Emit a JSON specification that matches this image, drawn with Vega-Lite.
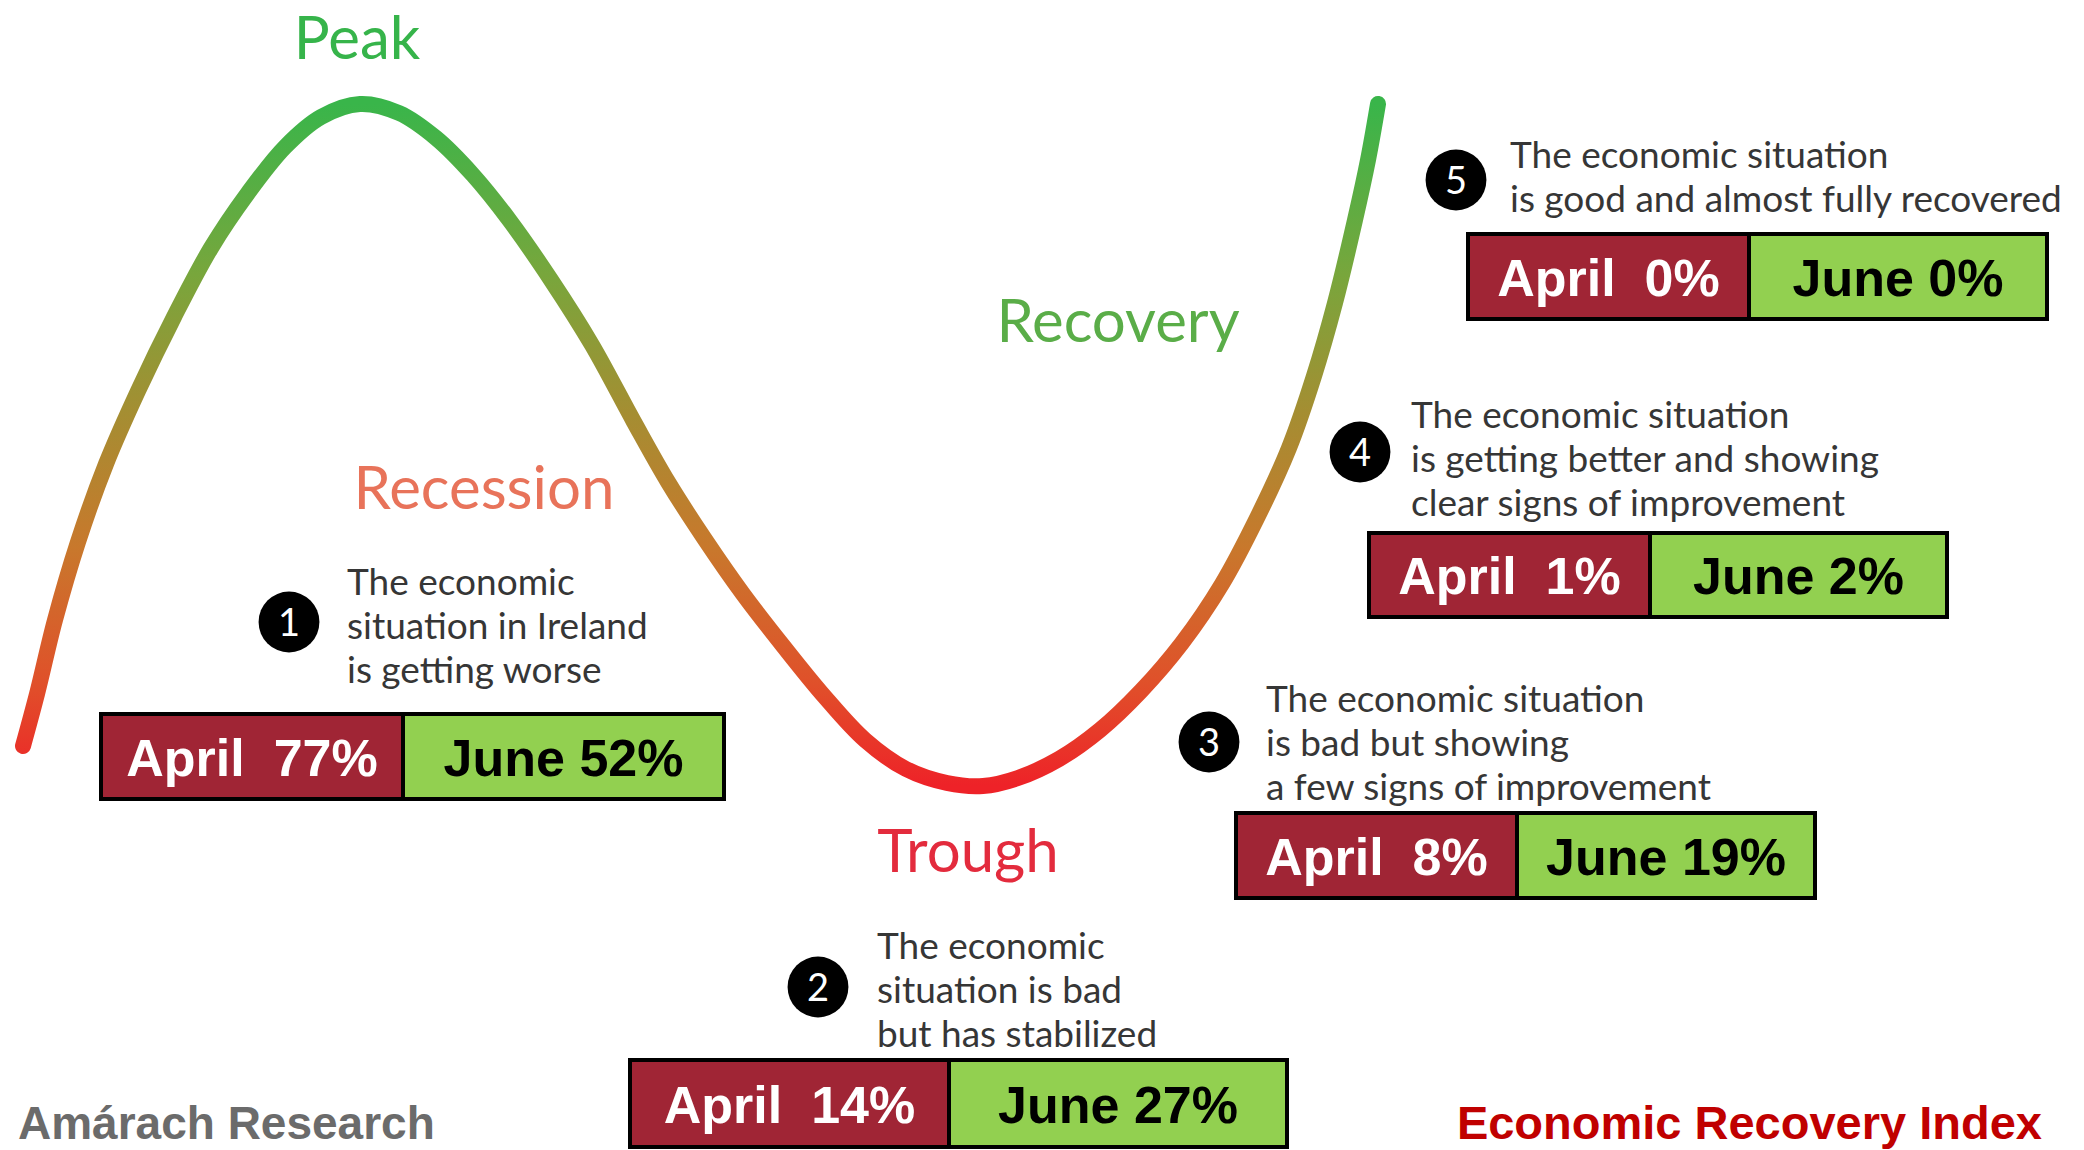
{
  "$schema": "https://vega.github.io/schema/vega-lite/v6.json",
  "width": 2084,
  "height": 1150,
  "padding": 0,
  "autosize": {"type": "none"},
  "background": "white",
  "config": {"view": {"stroke": null}},
  "resolve": {"scale": {"color": "independent", "fill": "independent"}},
  "datasets": {
    "curve": [
      {"x": 23, "y": 746}, {"x": 37, "y": 694}, {"x": 55, "y": 620}, {"x": 78, "y": 542},
      {"x": 106, "y": 464}, {"x": 138, "y": 391}, {"x": 174, "y": 317}, {"x": 211, "y": 248},
      {"x": 248, "y": 193}, {"x": 285, "y": 147}, {"x": 321, "y": 117}, {"x": 360, "y": 104},
      {"x": 399, "y": 113}, {"x": 436, "y": 138}, {"x": 473, "y": 175}, {"x": 510, "y": 221},
      {"x": 551, "y": 280}, {"x": 592, "y": 345}, {"x": 634, "y": 422}, {"x": 668, "y": 482},
      {"x": 704, "y": 538}, {"x": 743, "y": 594}, {"x": 784, "y": 647}, {"x": 824, "y": 696},
      {"x": 865, "y": 740}, {"x": 906, "y": 769}, {"x": 947, "y": 783}, {"x": 983, "y": 786},
      {"x": 1018, "y": 778}, {"x": 1059, "y": 759}, {"x": 1100, "y": 730}, {"x": 1141, "y": 691},
      {"x": 1182, "y": 643}, {"x": 1222, "y": 584}, {"x": 1258, "y": 516}, {"x": 1289, "y": 448},
      {"x": 1314, "y": 376}, {"x": 1335, "y": 303}, {"x": 1355, "y": 220}, {"x": 1368, "y": 160},
      {"x": 1378, "y": 104}
    ],
    "boxes": [
      {"stage": 1, "month": "April", "pct": 77, "label": "April\u00a0\u00a077%", "x0": 101, "x1": 403, "xc": 252, "y0": 714, "y1": 799, "yc": 756.5},
      {"stage": 1, "month": "June", "pct": 52, "label": "June 52%", "x0": 403, "x1": 724, "xc": 563.5, "y0": 714, "y1": 799, "yc": 756.5},
      {"stage": 2, "month": "April", "pct": 14, "label": "April\u00a0\u00a014%", "x0": 630, "x1": 949, "xc": 789.5, "y0": 1060, "y1": 1147, "yc": 1103.5},
      {"stage": 2, "month": "June", "pct": 27, "label": "June 27%", "x0": 949, "x1": 1287, "xc": 1118, "y0": 1060, "y1": 1147, "yc": 1103.5},
      {"stage": 3, "month": "April", "pct": 8, "label": "April\u00a0\u00a08%", "x0": 1236, "x1": 1517, "xc": 1376.5, "y0": 813, "y1": 898, "yc": 855.5},
      {"stage": 3, "month": "June", "pct": 19, "label": "June 19%", "x0": 1517, "x1": 1815, "xc": 1666, "y0": 813, "y1": 898, "yc": 855.5},
      {"stage": 4, "month": "April", "pct": 1, "label": "April\u00a0\u00a01%", "x0": 1369, "x1": 1650, "xc": 1509.5, "y0": 533, "y1": 617, "yc": 575},
      {"stage": 4, "month": "June", "pct": 2, "label": "June 2%", "x0": 1650, "x1": 1947, "xc": 1798.5, "y0": 533, "y1": 617, "yc": 575},
      {"stage": 5, "month": "April", "pct": 0, "label": "April\u00a0\u00a00%", "x0": 1468, "x1": 1749, "xc": 1608.5, "y0": 234, "y1": 319, "yc": 276.5},
      {"stage": 5, "month": "June", "pct": 0, "label": "June 0%", "x0": 1749, "x1": 2047, "xc": 1898, "y0": 234, "y1": 319, "yc": 276.5}
    ],
    "stages": [
      {"n": "1", "cx": 289, "cy": 622, "tx": 347, "ty": 595, "desc": "The economic\nsituation in Ireland\nis getting worse"},
      {"n": "2", "cx": 818, "cy": 987, "tx": 877, "ty": 959, "desc": "The economic\nsituation is bad\nbut has stabilized"},
      {"n": "3", "cx": 1209, "cy": 742, "tx": 1266, "ty": 712, "desc": "The economic situation\nis bad but showing\na few signs of improvement"},
      {"n": "4", "cx": 1360, "cy": 452, "tx": 1411, "ty": 428, "desc": "The economic situation\nis getting better and showing\nclear signs of improvement"},
      {"n": "5", "cx": 1456, "cy": 180, "tx": 1510, "ty": 168, "desc": "The economic situation\nis good and almost fully recovered"}
    ],
    "phases": [
      {"phase": "Peak", "x": 357, "y": 59},
      {"phase": "Recession", "x": 484, "y": 509},
      {"phase": "Recovery", "x": 1118, "y": 342},
      {"phase": "Trough", "x": 968, "y": 872}
    ],
    "footer": [
      {"text": "Amárach Research", "x": 18, "y": 1139, "side": "left"},
      {"text": "Economic Recovery Index", "x": 2042, "y": 1139, "side": "right"}
    ]
  },
  "layer": [
    {
      "data": {"name": "curve"},
      "mark": {
        "type": "line",
        "interpolate": "catmull-rom",
        "strokeWidth": 16,
        "strokeCap": "round",
        "strokeJoin": "round",
        "stroke": {
          "gradient": "linear", "x1": 0, "y1": 0, "x2": 0, "y2": 1,
          "stops": [
            {"offset": 0, "color": "#39b54a"},
            {"offset": 0.25, "color": "#78a63c"},
            {"offset": 0.45, "color": "#a48e32"},
            {"offset": 0.65, "color": "#c8782c"},
            {"offset": 0.85, "color": "#e0502a"},
            {"offset": 1, "color": "#ee2228"}
          ]
        }
      },
      "encoding": {
        "x": {"field": "x", "type": "quantitative", "scale": {"domain": [0, 2084], "nice": false, "zero": false}, "axis": null},
        "y": {"field": "y", "type": "quantitative", "scale": {"domain": [0, 1150], "nice": false, "zero": false, "reverse": true}, "axis": null},
        "order": {"field": "x", "type": "quantitative"}
      }
    },
    {
      "data": {"name": "boxes"},
      "mark": {"type": "rect", "stroke": "black", "strokeWidth": 4},
      "encoding": {
        "x": {"field": "x0", "type": "quantitative"},
        "x2": {"field": "x1"},
        "y": {"field": "y0", "type": "quantitative"},
        "y2": {"field": "y1"},
        "fill": {"field": "month", "type": "nominal", "scale": {"domain": ["April", "June"], "range": ["#a02535", "#92d050"]}, "legend": null}
      }
    },
    {
      "data": {"name": "boxes"},
      "mark": {"type": "text", "font": "Liberation Sans", "fontWeight": "bold", "fontSize": 52, "align": "center", "baseline": "alphabetic", "dy": 19},
      "encoding": {
        "x": {"field": "xc", "type": "quantitative"},
        "y": {"field": "yc", "type": "quantitative"},
        "text": {"field": "label"},
        "color": {"field": "month", "type": "nominal", "scale": {"domain": ["April", "June"], "range": ["#ffffff", "#000000"]}, "legend": null}
      }
    },
    {
      "data": {"name": "stages"},
      "mark": {"type": "point", "shape": "circle", "filled": true, "color": "#000000", "opacity": 1, "size": 3700},
      "encoding": {
        "x": {"field": "cx", "type": "quantitative"},
        "y": {"field": "cy", "type": "quantitative"}
      }
    },
    {
      "data": {"name": "stages"},
      "mark": {"type": "text", "font": "Lato", "fontSize": 38, "color": "#ffffff", "align": "center", "baseline": "alphabetic", "dy": 14},
      "encoding": {
        "x": {"field": "cx", "type": "quantitative"},
        "y": {"field": "cy", "type": "quantitative"},
        "text": {"field": "n"}
      }
    },
    {
      "data": {"name": "stages"},
      "mark": {"type": "text", "font": "Lato", "fontSize": 37, "color": "#363636", "align": "left", "baseline": "alphabetic", "lineBreak": "\n", "lineHeight": 44},
      "encoding": {
        "x": {"field": "tx", "type": "quantitative"},
        "y": {"field": "ty", "type": "quantitative"},
        "text": {"field": "desc"}
      }
    },
    {
      "data": {"name": "phases"},
      "mark": {"type": "text", "font": "Lato", "fontSize": 60, "align": "center", "baseline": "alphabetic"},
      "encoding": {
        "x": {"field": "x", "type": "quantitative"},
        "y": {"field": "y", "type": "quantitative"},
        "text": {"field": "phase"},
        "color": {"field": "phase", "type": "nominal", "scale": {"domain": ["Peak", "Recession", "Recovery", "Trough"], "range": ["#36b44a", "#e8735a", "#5aad48", "#e32b3d"]}, "legend": null}
      }
    },
    {
      "data": {"name": "footer"},
      "transform": [{"filter": "datum.side === 'left'"}],
      "mark": {"type": "text", "font": "Liberation Sans", "fontWeight": "bold", "fontSize": 46, "align": "left", "baseline": "alphabetic", "color": "#6b6b6b"},
      "encoding": {
        "x": {"field": "x", "type": "quantitative"},
        "y": {"field": "y", "type": "quantitative"},
        "text": {"field": "text"}
      }
    },
    {
      "data": {"name": "footer"},
      "transform": [{"filter": "datum.side === 'right'"}],
      "mark": {"type": "text", "font": "Liberation Sans", "fontWeight": "bold", "fontSize": 47, "align": "right", "baseline": "alphabetic", "color": "#c00000"},
      "encoding": {
        "x": {"field": "x", "type": "quantitative"},
        "y": {"field": "y", "type": "quantitative"},
        "text": {"field": "text"}
      }
    }
  ]
}
